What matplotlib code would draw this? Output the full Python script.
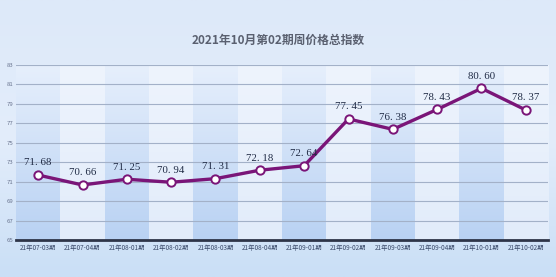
import matplotlib
matplotlib.use("Agg")
import matplotlib.pyplot as plt
import numpy as np
from matplotlib.colors import LinearSegmentedColormap

title = "2021年10月第02期周价格总指数"
categories = ["21年07-03期", "21年07-04期", "21年08-01期", "21年08-02期", "21年08-03期",
              "21年08-04期", "21年09-01期", "21年09-02期", "21年09-03期", "21年09-04期",
              "21年10-01期", "21年10-02期"]
values = [71.68, 70.66, 71.25, 70.94, 71.31, 72.18, 72.64, 77.45, 76.38, 78.43, 80.60, 78.37]
yticks = [65, 67, 69, 71, 73, 75, 77, 79, 81, 83]

plt.rcParams['font.family'] = ['Noto Sans CJK SC', 'DejaVu Sans']

fig = plt.figure(figsize=(5.56, 2.77), dpi=100)
bg = fig.add_axes([0, 0, 1, 1], zorder=-10)
grad = np.linspace(0, 1, 100).reshape(-1, 1)
cm_bg = LinearSegmentedColormap.from_list("bg", ["#dde9f9", "#e3edfb", "#cadff6"])
bg.imshow(grad, aspect='auto', cmap=cm_bg, extent=[0, 1, 0, 1], origin='upper')
bg.axis('off')

ax = fig.add_axes([16/556, 1-240/277, (548-16)/556, (240-65)/277])
ax.patch.set_alpha(0)
n = len(categories)
x = np.arange(n)
ax.set_xlim(-0.5, n - 0.5)
ax.set_ylim(65, 83)

cm_dark = LinearSegmentedColormap.from_list("d", ["#e6effc", "#b9d2f3"])
cm_light = LinearSegmentedColormap.from_list("l", ["#eef4fd", "#e2ecfa"])
g = np.linspace(0, 1, 100).reshape(-1, 1)
for i in range(n):
    cmap = cm_dark if i % 2 == 0 else cm_light
    ax.imshow(g, aspect='auto', cmap=cmap, extent=[i - 0.5, i + 0.5, 65, 83],
              origin='upper', zorder=0)

for t in yticks:
    ax.axhline(t, color='#a3b1c8', lw=0.8, zorder=1)

ax.plot(x, values, color='#7a1578', lw=2.4, zorder=3, solid_joinstyle='round')
ax.plot(x, values, 'o', ms=6, mfc='white', mec='#7a1578', mew=1.4, zorder=4)

for xi, v in zip(x, values):
    ax.annotate(f"{v:.2f}".replace('.', '. '), (xi, v), xytext=(0, 5.5), textcoords='offset points',
                ha='center', va='bottom', fontsize=7.8, color='#1f2a44',
                family=['Liberation Serif', 'DejaVu Serif'], zorder=5)

ax.set_xticks(x)
ax.set_xticklabels(categories, fontsize=4.6, color='#3a4a6a')
ax.set_yticks(yticks)
ax.set_yticklabels([str(t) for t in yticks], fontsize=4.3, color='#6a7590')
ax.tick_params(axis='both', length=0, pad=3)
ax.tick_params(axis='y', pad=2)
for s in ['top', 'right', 'left']:
    ax.spines[s].set_visible(False)
ax.spines['bottom'].set_color('#2e3548')
ax.spines['bottom'].set_linewidth(2)
ax.spines['bottom'].set_zorder(6)

fig.text(0.5, 1 - 40/277, title, ha='center', va='center', fontsize=8.5,
         color='#5a6070', fontweight='bold')

fig.savefig("out.png", dpi=100)
